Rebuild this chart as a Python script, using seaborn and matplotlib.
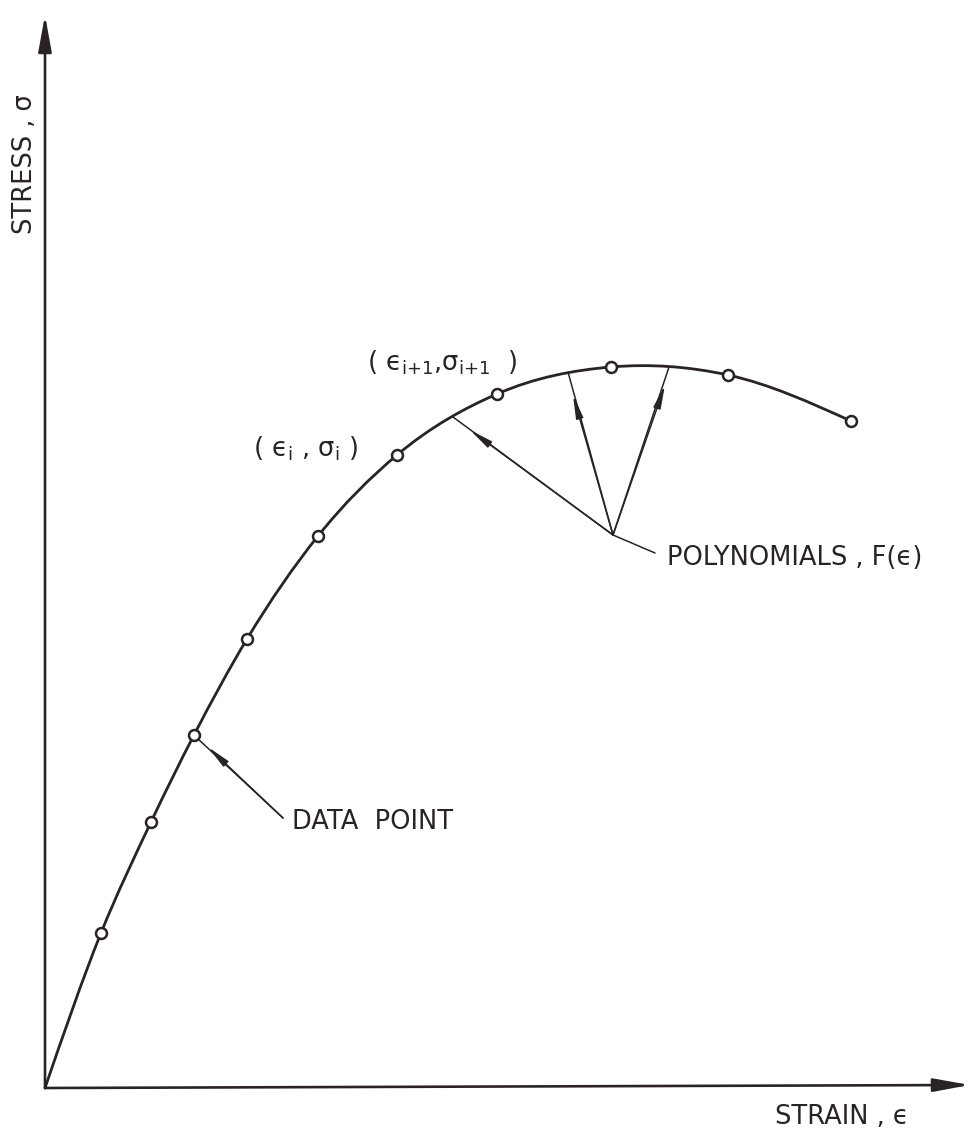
import numpy as np
import pandas as pd
import matplotlib
matplotlib.use("Agg")
import matplotlib.pyplot as plt
import seaborn as sns
from matplotlib.path import Path
from matplotlib.patches import PathPatch

# ---- data (arbitrary units) ----
strain = [56, 106, 149, 202, 273, 352, 452, 566, 683, 806]
stress = [155, 266, 353, 449, 552, 633, 694, 721, 713, 667]

x_label = "STRAIN , \u03f5"
y_label = "STRESS , \u03c3"
point_label = "DATA  POINT"
poly_label = "POLYNOMIALS , F(\u03f5)"
pt_i_label = "( $\u03f5_{i}$ , $\u03c3_{i}$ )"
pt_i1_label = "( $\u03f5_{i{+}1}$,$\u03c3_{i{+}1}$  )"

INK = "#2a2326"

sns.set_style("white")
plt.rcParams["font.family"] = ["DejaVu Sans"]
plt.rcParams["mathtext.default"] = "regular"

fig = plt.figure(figsize=(9.71, 11.43), dpi=100)
ax = fig.add_axes([0, 0, 1, 1])
ax.set_xlim(-45, 926)
ax.set_ylim(-55, 1088)
ax.axis("off")

# ---- axes with arrows ----
axis_arrow = dict(arrowstyle="-|>,head_length=1.1,head_width=0.2",
                  mutation_scale=20, lw=1.9, color=INK,
                  shrinkA=0, shrinkB=0)
ax.annotate("", xy=(0, 1073), xytext=(0, 0), arrowprops=axis_arrow)
ax.annotate("", xy=(925, 3), xytext=(0, 0), arrowprops=axis_arrow)

# ---- smooth curve (Hermite in x) through origin and data points ----
xs = np.array([0] + strain, dtype=float)
ys = np.array([0] + stress, dtype=float)
h = np.diff(xs)
d = np.diff(ys) / h
m = np.empty_like(xs)
m[1:-1] = (d[:-1] * h[1:] + d[1:] * h[:-1]) / (h[:-1] + h[1:])
m[0] = 1.5 * d[0] - 0.5 * m[1]
m[-1] = 1.5 * d[-1] - 0.5 * m[-2]
verts = [(xs[0], ys[0])]
codes = [Path.MOVETO]
for i in range(len(xs) - 1):
    c1 = (xs[i] + h[i] / 3, ys[i] + m[i] * h[i] / 3)
    c2 = (xs[i + 1] - h[i] / 3, ys[i + 1] - m[i + 1] * h[i] / 3)
    verts += [c1, c2, (xs[i + 1], ys[i + 1])]
    codes += [Path.CURVE4] * 3
ax.add_patch(PathPatch(Path(verts, codes), fill=False, lw=2.0,
                       edgecolor=INK, capstyle="round", zorder=3))

df = pd.DataFrame({"strain": strain, "stress": stress})
sns.scatterplot(data=df, x="strain", y="stress", ax=ax, marker="o", s=62,
                color="white", edgecolor=INK, linewidth=1.8, zorder=5,
                legend=False)

# ---- leader lines and arrows ----
def pointer(tail, tip, head):
    ax.annotate("", xy=tip, xytext=tail,
                arrowprops=dict(arrowstyle="-", lw=1.1, color=INK,
                                shrinkA=0, shrinkB=0))
    ax.annotate("", xy=head, xytext=tail,
                arrowprops=dict(arrowstyle="-|>,head_length=1.4,head_width=0.22",
                                mutation_scale=10, lw=1.1, color=INK,
                                shrinkA=0, shrinkB=0))

# data point pointer
pointer((238, 270), (strain[2] + 3, stress[2] - 3), (163, 341))
# polynomial pointers
hub = (568, 553)
pointer(hub, (408, 671), (425, 658))
pointer(hub, (523, 716), (528, 693))
pointer(hub, (624, 721), (620, 703))
ax.plot([hub[0], 610], [hub[1], 535], color=INK, lw=1.1)

# ---- text ----
fs = 18.5
ax.text(-20, 924, y_label, rotation=90, ha="center", va="center",
        fontsize=fs, color=INK)
ax.text(730, -29, x_label, ha="left", va="center", fontsize=fs, color=INK)
ax.text(622, 530, poly_label, ha="left", va="center", fontsize=fs, color=INK)
ax.text(247, 266, point_label, ha="left", va="center", fontsize=fs, color=INK)
ax.text(208, 639, pt_i_label, ha="left", va="center", fontsize=fs, color=INK)
ax.text(322, 725, pt_i1_label, ha="left", va="center", fontsize=fs, color=INK)

fig.savefig("out.png", dpi=100, facecolor="white")
